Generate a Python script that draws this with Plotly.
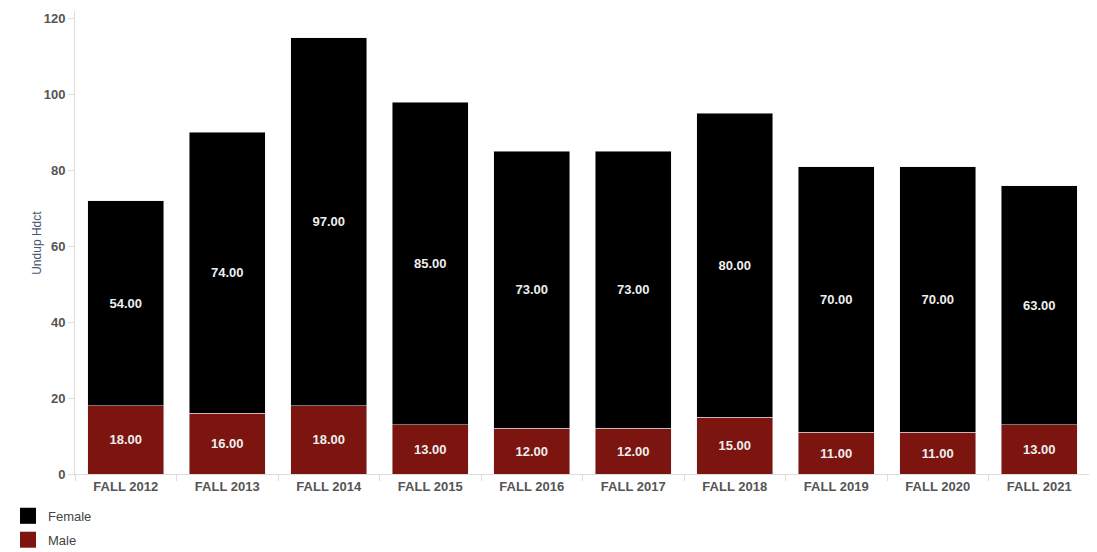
import plotly.graph_objects as go

# Datos
semestres = ["FALL 2012", "FALL 2013", "FALL 2014", "FALL 2015", "FALL 2016",
             "FALL 2017", "FALL 2018", "FALL 2019", "FALL 2020", "FALL 2021"]
female = [54, 74, 97, 85, 73, 73, 80, 70, 70, 63]
male = [18, 16, 18, 13, 12, 12, 15, 11, 11, 13]
y_ticks = [0, 20, 40, 60, 80, 100, 120]

COLOR_FEMALE = "#000000"
COLOR_MALE = "#7c1510"
FUENTE = "Liberation Sans, Arial"

etiqueta = dict(color="#eeeeee", size=13, family=FUENTE, weight="bold")

fig = go.Figure()

# Barras apiladas (sin leyenda propia)
fig.add_trace(go.Bar(
    x=semestres, y=male, name="Male",
    marker=dict(color=COLOR_MALE),
    text=[f"{v:.2f}" for v in male],
    textposition="inside", insidetextanchor="middle",
    textfont=etiqueta, showlegend=False,
))
fig.add_trace(go.Bar(
    x=semestres, y=female, name="Female",
    marker=dict(color=COLOR_FEMALE),
    text=[f"{v:.2f}" for v in female],
    textposition="inside", insidetextanchor="middle",
    textfont=etiqueta, showlegend=False,
))

# Entradas de leyenda con cuadrados grandes
for nombre, color in [("Female", COLOR_FEMALE), ("Male", COLOR_MALE)]:
    fig.add_trace(go.Scatter(
        x=[None], y=[None], mode="markers", name=nombre,
        legendgroup=nombre,
        marker=dict(symbol="square", size=19, color=color),
    ))

# Título del eje Y como anotación
fig.add_annotation(
    text="Undup Hdct", xref="paper", yref="paper",
    x=-0.047, y=0.5, textangle=-90, showarrow=False,
    font=dict(size=12, color="#4a5570"),
)

fig.update_layout(
    barmode="stack",
    bargap=0.25,
    width=1089, height=544,
    margin=dict(l=67, r=7, t=3, b=78, autoexpand=False),
    paper_bgcolor="white",
    plot_bgcolor="white",
    font=dict(family=FUENTE, color="#555555"),
    uniformtext=dict(minsize=12, mode="show"),
    legend=dict(
        xref="container", yref="container",
        x=0.0, y=0.094, xanchor="left", yanchor="top",
        orientation="v", traceorder="grouped",
        font=dict(size=13, color="#444444"),
        itemwidth=30, tracegroupgap=4,
    ),
    xaxis=dict(
        showline=True, linecolor="#dddddd", linewidth=1,
        ticks="outside", ticklen=6, tickcolor="#dddddd",
        tickson="boundaries",
        tickfont=dict(size=13, color="#555555", family=FUENTE, weight="bold"),
        showgrid=False,
    ),
    yaxis=dict(
        range=[0, 122],
        tickmode="array",
        tickvals=y_ticks,
        ticktext=[str(v) for v in y_ticks],
        showline=True, linecolor="#dddddd", linewidth=1,
        ticks="outside", ticklen=6, tickcolor="#dddddd",
        tickfont=dict(size=13, color="#555555", family=FUENTE, weight="bold"),
        showgrid=False, zeroline=False,
    ),
)

fig.write_html("out.html")
